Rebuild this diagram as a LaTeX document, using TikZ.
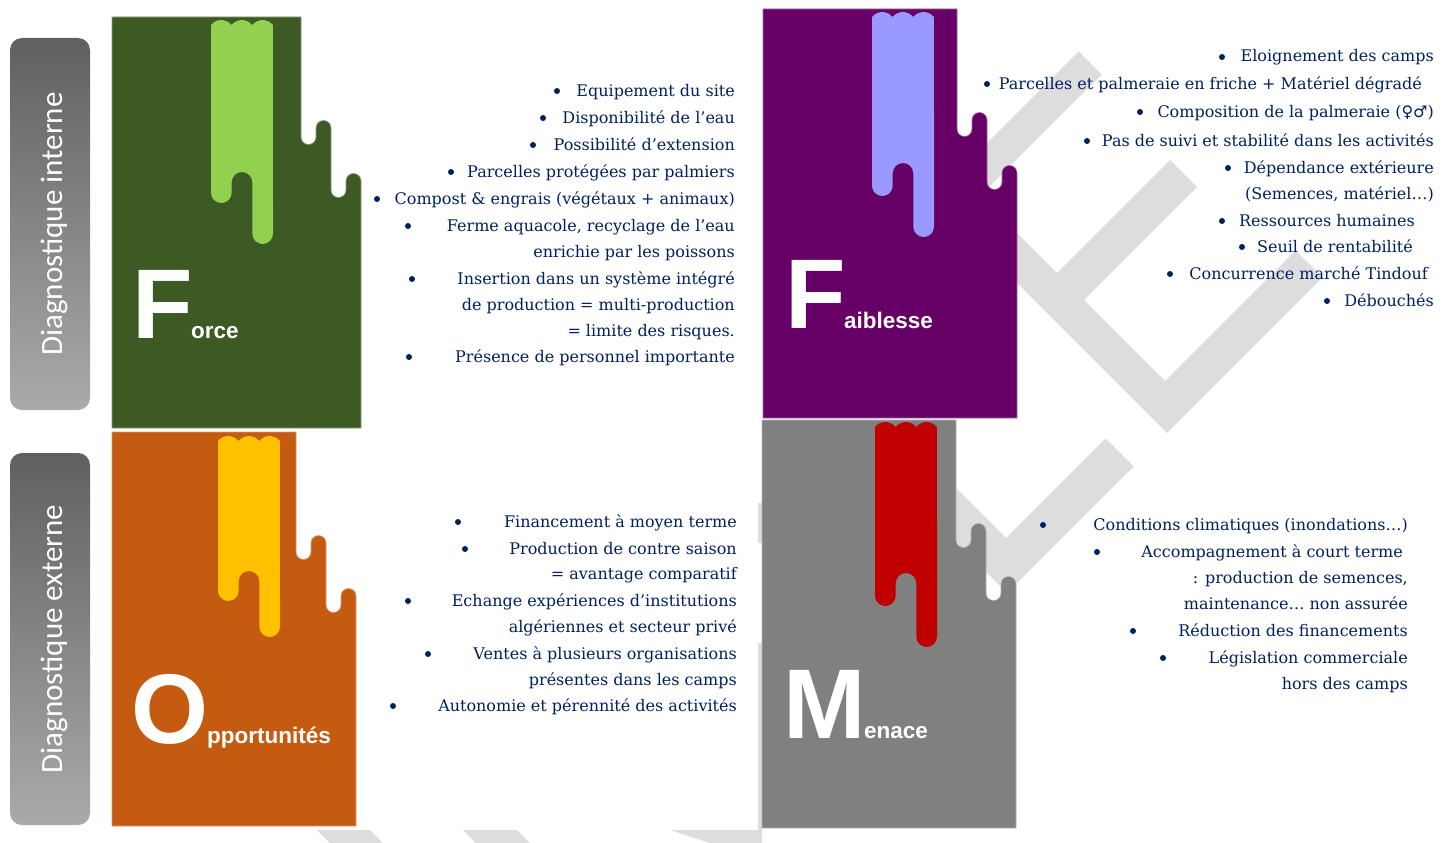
\documentclass[tikz,border=0pt]{standalone}
\usepackage{fontspec}
\setmainfont{DejaVu Serif}
\newfontfamily\labelfont{Carlito}
\newfontfamily\blockfont{Liberation Sans}
\newfontfamily\symbolfont{DejaVu Sans}
\usepackage{tikz}
\usetikzlibrary{positioning}
\definecolor{forcegreen}{HTML}{3D5A25}
\definecolor{forcedrip}{HTML}{92D050}
\definecolor{faibpurple}{HTML}{660066}
\definecolor{faibdrip}{HTML}{9999FF}
\definecolor{oppoorange}{HTML}{C55A11}
\definecolor{oppodrip}{HTML}{FFC000}
\definecolor{menagray}{HTML}{808080}
\definecolor{menadrip}{HTML}{C00000}
\definecolor{watermark}{HTML}{DDDDDD}
\definecolor{navy}{HTML}{002060}
\definecolor{boxtop}{HTML}{606060}
\definecolor{boxbot}{HTML}{AAAAAA}
% block with two rounded notches: colour, left, top, right, bottom
\newcommand{\swotblock}[5]{%
  \fill[#1, draw=#1!60!white, line width=0.6pt] (#2,#3) -- ({#4-60},#3) -- ({#4-60},{#3+120})
    arc[start angle=180, end angle=0, radius=7.5] -- ({#4-45},{#3+111})
    arc[start angle=180, end angle=360, radius=7.5] -- ({#4-30},{#3+173})
    arc[start angle=180, end angle=0, radius=7.5] -- ({#4-15},{#3+164})
    arc[start angle=180, end angle=360, radius=7.5] -- (#4,#5) -- (#2,#5) -- cycle;}
% drip: colour, left, top, left bottom, notch top, right bottom
\newcommand{\swotdrip}[6]{%
  \fill[#1] (#2,{#3+5})
    arc[start angle=218.5, end angle=321.5, radius=13.2]
    arc[start angle=218.5, end angle=321.5, radius=13.2]
    arc[start angle=218.5, end angle=321.5, radius=13.2]
    -- ({#2+62},{#6-10.33}) arc[start angle=0, end angle=180, radius=10.33]
    -- ({#2+41.33},{#5+10.33}) arc[start angle=0, end angle=-180, radius=10.33]
    -- ({#2+20.67},{#4-10.33}) arc[start angle=0, end angle=180, radius=10.33]
    -- cycle;}

\begin{document}
\begin{tikzpicture}[x=1pt, y=-1pt,
    sidebox/.style={rectangle, rounded corners=12pt, top color=boxtop, bottom color=boxbot, minimum width=80pt, minimum height=372pt, inner sep=0},
    sidetext/.style={white, rotate=90, anchor=base, inner sep=0, font=\labelfont\fontsize{31}{31}\selectfont},
    bigletter/.style={white, anchor=base west, inner sep=0, font=\blockfont\bfseries\fontsize{99}{99}\selectfont},
    word/.style={white, anchor=base west, inner sep=0, font=\blockfont\bfseries\fontsize{22.5}{22.5}\selectfont},
    item/.style={navy, anchor=base east, inner sep=0, font=\fontsize{16}{19}\selectfont},
    bul/.style={circle, fill=navy, minimum size=6pt, inner sep=0}
]
    \useasboundingbox (0,0) rectangle (1451,843);
    \fill[white] (0,0) rectangle (1451,843);

    % Watermark letters
    \fill[watermark] (932,198) -- (1078.5,51.5) -- (1101.5,74.5) -- (980,196) -- (1057,273)
        -- (1170,160) -- (1197,187) -- (1084,300) -- (1165,381) -- (1295.5,250.5)
        -- (1322.5,277.5) -- (1167,433) -- cycle;
    \fill[watermark] (867,453) -- (894,426) -- (1006,538) -- (1105.5,438.5) -- (1133.5,466.5)
        -- (1007,593) -- cycle;
    \fill[watermark] (317,830) -- (370,830) -- (383,843) -- (330,843) -- cycle;
    \fill[watermark] (463,830) -- (517,830) -- (530,843) -- (476,843) -- cycle;
    \fill[watermark] (670,830) -- (762,830) -- (762,843) -- (710,843) -- cycle;
    \fill[watermark] (758,503) rectangle (762,543);
    \fill[watermark] (758,643) rectangle (762,830);

    % Side labels
    \node[sidebox] (intbox) at (50,224) {};
    \node[sidebox] (extbox) at (50,639) {};
    \node[sidetext] (inttext) at ([xshift=12pt]intbox.center) {Diagnostique interne};
    \node[sidetext] (exttext) at ([xshift=12pt]extbox.center) {Diagnostique externe};

    % Blocks
    \swotblock{forcegreen}{112}{17}{361}{428}
    \swotblock{faibpurple}{763}{9}{1017}{418}
    \swotblock{oppoorange}{112}{432}{356}{826}
    \swotblock{menagray}{762}{420}{1016}{828}

    % Drips
    \swotdrip{forcedrip}{211}{20}{203}{172}{244}
    \swotdrip{faibdrip}{872}{12}{196}{163}{237}
    \swotdrip{oppodrip}{218}{436}{601}{571}{637}
    \swotdrip{menadrip}{875}{422}{606}{573}{647}

    % Block titles
    \node[bigletter] (F1) at (132,338) {F};
    \node[word, right=-2pt of F1.base east, anchor=base west] (F1w) {orce};
    \node[bigletter] (F2) at (785,328) {F};
    \node[word, right=-2pt of F2.base east, anchor=base west] (F2w) {aiblesse};
    \node[bigletter] (O1) at (131.5,743) {O};
    \node[word, right=-2pt of O1.base east, anchor=base west] (O1w) {pportunités};
    \node[bigletter] (M1) at (783,738) {M};
    \node[word, right=-2pt of M1.base east, anchor=base west] (M1w) {enace};

    % Force list
    \foreach \txt/\by [count=\i] in {{Equipement du site}/91, {Disponibilité de l’eau}/118,
        {Possibilité d’extension}/145, {Parcelles protégées par palmiers}/172,
        {Compost \& engrais (végétaux + animaux)}/199, {Ferme aquacole, recyclage de l’eau}/226,
        {enrichie par les poissons}/252, {Insertion dans un système intégré}/279,
        {de production = multi-production}/305, {= limite des risques.}/331,
        {Présence de personnel importante}/357}
        \node[item] (fo\i) at (735,\by+5) {\txt};
    \foreach \bx/\by [count=\i] in {557/91, 543/118, 533/145, 451/172, 377/199, 408/226, 412/279, 409/357}
        \node[bul] (fob\i) at (\bx,\by) {};

    % Faiblesse list
    \foreach \txt/\rx/\by [count=\i] in {{Eloignement des camps}/1434/57,
        {Parcelles et palmeraie en friche + Matériel dégradé}/1422/84,
        {Composition de la palmeraie ({\symbolfont ♀♂})}/1434/112,
        {Pas de suivi et stabilité dans les activités}/1434/141,
        {Dépendance extérieure}/1434/168, {(Semences, matériel…)}/1434/194,
        {Ressources humaines}/1415/221, {Seuil de rentabilité}/1413/247,
        {Concurrence marché Tindouf}/1428/274, {Débouchés}/1434/301}
        \node[item] (fa\i) at (\rx,\by+5) {\txt};
    \foreach \bx/\by [count=\i] in {1222/57, 987/84, 1140/112, 1087/141, 1228/168, 1222/221, 1242/247, 1170/274, 1327/301}
        \node[bul] (fab\i) at (\bx,\by) {};

    % Opportunites list
    \foreach \txt/\by [count=\i] in {{Financement à moyen terme}/522, {Production de contre saison}/549,
        {= avantage comparatif}/574, {Echange expériences d’institutions}/601,
        {algériennes et secteur privé}/627, {Ventes à plusieurs organisations}/654,
        {présentes dans les camps}/680, {Autonomie et pérennité des activités}/706}
        \node[item] (op\i) at (737,\by+5) {\txt};
    \foreach \bx/\by [count=\i] in {458/522, 465/549, 408/601, 428/654, 393/706}
        \node[bul] (opb\i) at (\bx,\by) {};

    % Menace list
    \foreach \txt/\rx/\by [count=\i] in {{Conditions climatiques (inondations…)}/1408/525,
        {Accompagnement à court terme}/1403/552, {: production de semences,}/1408/578,
        {maintenance… non assurée}/1408/604, {Réduction des financements}/1408/631,
        {Législation commerciale}/1408/658, {hors des camps}/1408/684}
        \node[item] (me\i) at (\rx,\by+5) {\txt};
    \foreach \bx/\by [count=\i] in {1043/525, 1097/552, 1133/631, 1163/658}
        \node[bul] (meb\i) at (\bx,\by) {};

\end{tikzpicture}
\end{document}
